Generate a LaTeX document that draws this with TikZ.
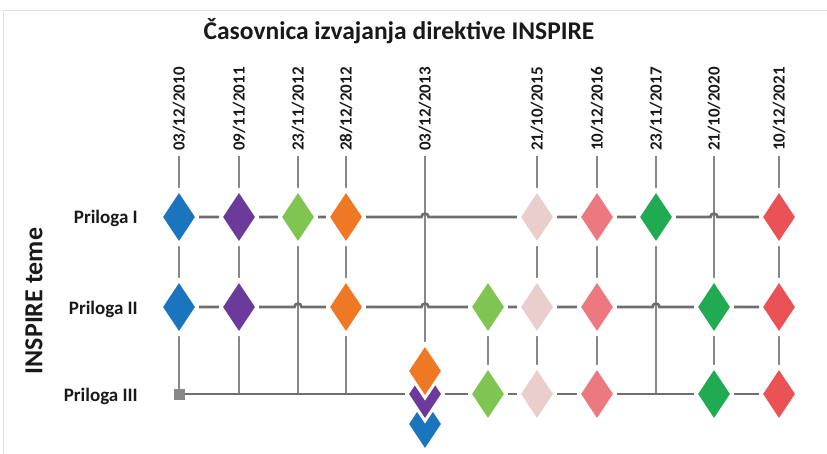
\documentclass[tikz,border=0pt]{standalone}
\usepackage{fontspec}
\setmainfont{Carlito}
\usetikzlibrary{shapes.geometric,backgrounds}
\definecolor{cblue}{RGB}{27,117,190}
\definecolor{cpurple}{RGB}{108,58,155}
\definecolor{clgreen}{RGB}{128,196,82}
\definecolor{corange}{RGB}{238,120,35}
\definecolor{cpale}{RGB}{234,205,205}
\definecolor{cpink}{RGB}{236,120,128}
\definecolor{cdgreen}{RGB}{32,170,82}
\definecolor{cred}{RGB}{234,82,86}
\definecolor{hgray}{RGB}{110,110,110}
\definecolor{vgray}{RGB}{135,135,135}
\definecolor{txt}{RGB}{25,25,25}
\begin{document}
\begin{tikzpicture}[x=1pt,y=-1pt,
  dia/.style={diamond,draw=white,line width=3pt,inner sep=0pt,minimum width=37pt,minimum height=55pt,fill=#1},
  hline/.style={draw=hgray,line width=2.6pt},
  vline/.style={draw=vgray,line width=1.8pt},
  datelab/.style={rotate=90,anchor=west,font=\bfseries\fontsize{17}{19}\selectfont,text=txt,inner ysep=0pt,inner xsep=5pt},
  rowlab/.style={anchor=base east,font=\bfseries\fontsize{19}{22}\selectfont,text=txt,inner sep=0pt},
]
\useasboundingbox (0,0) rectangle (827,454);
\coordinate (fa) at (3,454);
\coordinate (fb) at (3,10);
\coordinate (fc) at (827,10);
\draw[black!12,line width=0.8pt] (fa) -- (fb) -- (fc);

\node[anchor=base,font=\bfseries\fontsize{25.5}{29}\selectfont,text=txt] (title) at (399,40) {Časovnica izvajanja direktive INSPIRE};
\node[rotate=90,font=\bfseries\fontsize{26}{29}\selectfont,text=txt] (axis) at (34,301) {INSPIRE teme};

\node[rowlab] (l1) at (138,224) {Priloga I};
\node[rowlab] (l2) at (138,314) {Priloga II};
\node[rowlab] (l3) at (138,401) {Priloga III};

% date labels
\node[datelab] (d1) at (179,156) {03/12/2010};
\node[datelab] (d2) at (239,156) {09/11/2011};
\node[datelab] (d3) at (298,156) {23/11/2012};
\node[datelab] (d4) at (346,156) {28/12/2012};
\node[datelab] (d5) at (425,156) {03/12/2013};
\node[datelab] (d7) at (537,156) {21/10/2015};
\node[datelab] (d8) at (597,156) {10/12/2016};
\node[datelab] (d9) at (656,156) {23/11/2017};
\node[datelab] (d10) at (714,156) {21/10/2020};
\node[datelab] (d11) at (779,156) {10/12/2021};

% row I
\node[dia=cblue] (a1) at (179,217) {};
\node[dia=cpurple] (a2) at (239,217) {};
\node[dia=clgreen] (a3) at (298,217) {};
\node[dia=corange] (a4) at (346,217) {};
\node[dia=cpale] (a7) at (537,217) {};
\node[dia=cpink] (a8) at (597,217) {};
\node[dia=cdgreen] (a9) at (656,217) {};
\node[dia=cred] (a11) at (779,217) {};
\coordinate (j15) at (425,217);
\coordinate (j110) at (714,217);

% row II
\node[dia=cblue] (b1) at (179,307) {};
\node[dia=cpurple] (b2) at (239,307) {};
\node[dia=corange] (b4) at (346,307) {};
\node[dia=clgreen] (b6) at (488,307) {};
\node[dia=cpale] (b7) at (537,307) {};
\node[dia=cpink] (b8) at (597,307) {};
\node[dia=cdgreen] (b10) at (714,307) {};
\node[dia=cred] (b11) at (779,307) {};
\coordinate (j23) at (298,307);
\coordinate (j25) at (425,307);
\coordinate (j29) at (656,307);

% row III
\node[rectangle,fill=vgray,minimum size=11pt,inner sep=0pt] (sq) at (179,394) {};
\coordinate (t2) at (239,394);
\coordinate (t3) at (298,394);
\coordinate (t4) at (346,394);
\node[dia=cblue] (s3) at (425,424) {};
\node[dia=cpurple] (s2) at (425,394) {};
\node[dia=corange] (s1) at (425,371) {};
\node[dia=clgreen] (e6) at (488,394) {};
\node[dia=cpale] (e7) at (537,394) {};
\node[dia=cpink] (e8) at (597,394) {};
\coordinate (t9) at (656,394);
\node[dia=cdgreen] (e10) at (714,394) {};
\node[dia=cred] (e11) at (779,394) {};

\begin{scope}[on background layer]
% vertical connectors
\draw[vline] (d1) -- (a1) -- (b1) -- (sq.center);
\draw[vline] (d2) -- (a2) -- (b2) -- (t2);
\draw[vline] (d3) -- (a3) -- (t3);
\draw[vline] (d4) -- (a4) -- (b4) -- (t4);
\draw[vline] (d5) -- (s1);
\draw[vline] (b6) -- (e6);
\draw[vline] (d7) -- (a7) -- (b7) -- (e7);
\draw[vline] (d8) -- (a8) -- (b8) -- (e8);
\draw[vline] (d9) -- (a9) -- (t9);
\draw[vline] (d10) -- (b10) -- (e10);
\draw[vline] (d11) -- (a11) -- (b11) -- (e11);
% horizontal connectors
\draw[hline] (a1) -- (a2) -- (a3) -- (a4)
  -- ([xshift=-3.5pt]j15) arc[start angle=180,end angle=360,radius=3.5]
  -- (a7) -- (a8) -- (a9)
  -- ([xshift=-3.5pt]j110) arc[start angle=180,end angle=360,radius=3.5]
  -- (a11);
\draw[hline] (b1) -- (b2)
  -- ([xshift=-3.5pt]j23) arc[start angle=180,end angle=360,radius=3.5]
  -- (b4)
  -- ([xshift=-3.5pt]j25) arc[start angle=180,end angle=360,radius=3.5]
  -- (b6) -- (b7) -- (b8)
  -- ([xshift=-3.5pt]j29) arc[start angle=180,end angle=360,radius=3.5]
  -- (b10) -- (b11);
\draw[hline] (sq.center) -- (t2) -- (t3) -- (t4) -- (s2) -- (e6) -- (e7) -- (e8) -- (t9) -- (e10) -- (e11);
\end{scope}
\end{tikzpicture}
\end{document}
